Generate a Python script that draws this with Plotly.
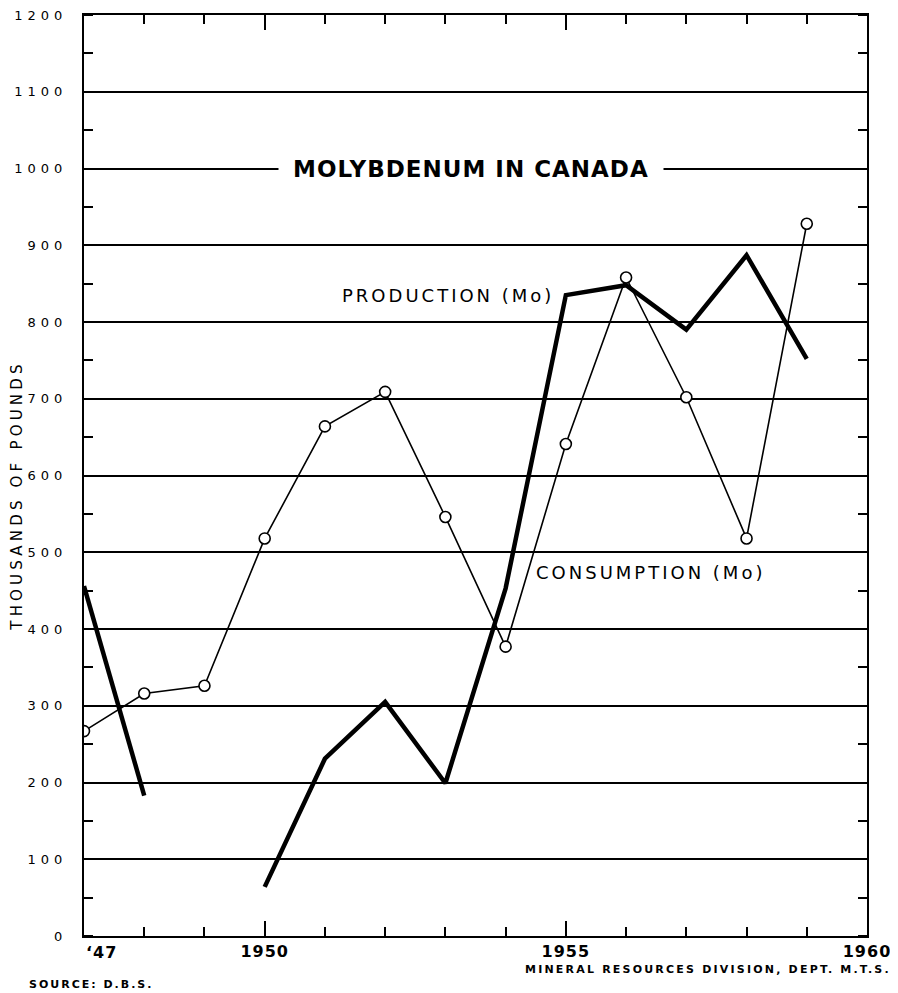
import plotly.graph_objects as go

years = [1947, 1948, 1949, 1950, 1951, 1952, 1953, 1954, 1955, 1956, 1957, 1958, 1959]
production = [456, 183, None, 64, 231, 305, 199, 453, 835, 848, 790, 887, 752]
consumption = [267, 316, 326, 518, 664, 709, 546, 377, 641, 858, 702, 518, 928]

y_ticks = list(range(0, 1300, 100))
y_ticktext = [str(v) for v in y_ticks]
x_ticks = [1950, 1955, 1960]
x_ticktext = ["1950", "1955", "1960"]

FONT = "DejaVu Sans"


def spaced(text, px):
    return f"<span style='letter-spacing:{px}px'>{text}</span>"


fig = go.Figure()
fig.add_trace(go.Scatter(
    x=years, y=production, mode="lines", connectgaps=False,
    line=dict(color="black", width=4.5), name="Production", showlegend=False,
))
fig.add_trace(go.Scatter(
    x=years, y=consumption, mode="lines+markers",
    line=dict(color="black", width=1.6),
    marker=dict(symbol="circle", size=11, color="white", line=dict(color="black", width=1.6)),
    name="Consumption", showlegend=False,
))

# page body has an 8px margin, so the figure is sized to fit the window
fig.update_layout(
    width=890, height=985,
    margin=dict(l=76, r=31, t=7, b=57),
    paper_bgcolor="white", plot_bgcolor="white",
    font=dict(family=FONT, color="black"),
    xaxis=dict(
        range=[1947, 1960], tickvals=x_ticks,
        ticktext=[spaced(t, 1) for t in x_ticktext],
        tickfont=dict(size=16, family=FONT, weight="bold"),
        ticks="inside", ticklen=15, tickwidth=2, tickcolor="black",
        showline=True, linecolor="black", linewidth=2, mirror="ticks",
        showgrid=False, zeroline=False, automargin=False, ticklabeloverflow="allow",
        minor=dict(dtick=1, tick0=1947, ticks="inside", ticklen=9, tickwidth=1.5,
                   tickcolor="black", showgrid=False),
        ticklabelstandoff=0,
    ),
    yaxis=dict(
        range=[0, 1200], tickvals=y_ticks,
        ticktext=[spaced(t, 5) for t in y_ticktext],
        tickfont=dict(size=13),
        ticks="", showline=True, linecolor="black", linewidth=2, mirror="ticks",
        showgrid=True, gridcolor="black", gridwidth=1.5, zeroline=False, automargin=False,
        ticklabeloverflow="allow",
        minor=dict(dtick=50, ticks="inside", ticklen=9, tickwidth=1.5,
                   tickcolor="black", showgrid=False),
        ticklabelstandoff=12,
    ),
)

annotations = [
    dict(text="<b>" + spaced("MOLYBDENUM IN CANADA", 1) + "</b>", x=0.494, xref="paper",
         y=1000, yref="y", xanchor="center", yanchor="middle",
         font=dict(size=23), bgcolor="white", borderpad=14, showarrow=False),
    dict(text=spaced("PRODUCTION (Mo)", 3), x=0.465, xref="paper", y=834, yref="y",
         xanchor="center", yanchor="middle", font=dict(size=18), showarrow=False),
    dict(text=spaced("CONSUMPTION (Mo)", 3), x=0.724, xref="paper", y=473, yref="y",
         xanchor="center", yanchor="middle", font=dict(size=18), showarrow=False),
    dict(text=spaced("THOUSANDS OF POUNDS", 4.2), x=-0.0856, xref="paper", y=0.478, yref="paper",
         xanchor="center", yanchor="middle",
         textangle=-90, font=dict(size=15), showarrow=False),
    dict(text="<b>" + spaced("‘47", 1) + "</b>", x=1947, xref="x", y=-0.0175, yref="paper",
         xanchor="left", yanchor="middle", font=dict(size=16), showarrow=False),
    dict(text="<b>" + spaced("SOURCE: D.B.S.", 2) + "</b>", x=-0.0728, xref="paper",
         y=-0.0532, yref="paper", xanchor="left", yanchor="middle",
         font=dict(size=11), showarrow=False),
    dict(text="<b>" + spaced("MINERAL RESOURCES DIVISION, DEPT. M.T.S.", 2.2) + "</b>",
         x=1.033, xref="paper", y=-0.0369, yref="paper", xanchor="right", yanchor="middle",
         font=dict(size=11), showarrow=False),
]
fig.update_layout(annotations=annotations)

fig.write_html("out.html")
